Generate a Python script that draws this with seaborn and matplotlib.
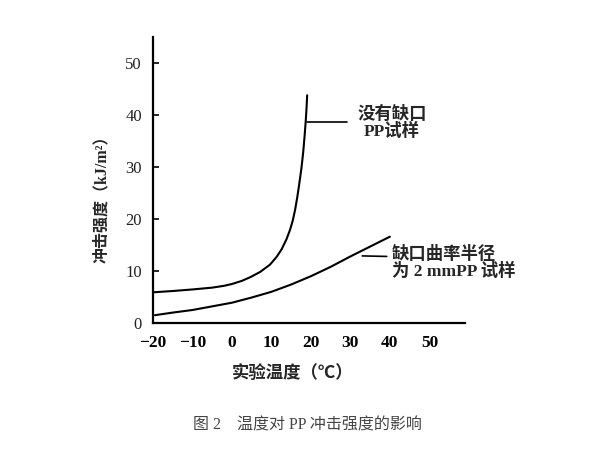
import matplotlib
matplotlib.use('Agg')
import matplotlib.pyplot as plt
import seaborn as sns
import pandas as pd

# Data
# unnotched PP specimen
temp_plain = [-20, -15, -10, -5, -2, 0, 2.5, 4.6, 7.1, 9.6, 11.3, 12.6, 13.8,
              14.7, 15.4, 16.0, 16.5, 17.0, 17.6, 18.05, 18.4, 18.7, 18.9, 19.05]
impact_plain = [5.9, 6.15, 6.45, 6.8, 7.15, 7.5, 8.1, 8.8, 9.8, 11.2, 12.7, 14.2, 16.1,
                17.9, 19.7, 21.8, 24.0, 26.5, 29.8, 32.9, 36.0, 39.0, 41.5, 43.8]

# PP specimen with 2 mm notch radius
temp_notch = [-19.5, -15, -10, -5, 0, 5, 10, 15, 20, 25, 30, 35, 40]
impact_notch = [1.5, 2.0, 2.5, 3.2, 3.9, 4.9, 6.0, 7.4, 9.0, 10.8, 12.8, 14.7, 16.6]

# leader lines for the labels
lead_plain_x = [19.1, 29.2]
lead_plain_y = [38.6, 38.6]
lead_notch_x = [33.0, 39.2]
lead_notch_y = [12.9, 12.8]

x_ticks = [-20, -10, 0, 10, 20, 30, 40, 50]
y_ticks = [0, 10, 20, 30, 40, 50]

label_plain = '没有缺口\nPP试样'
label_notch = '缺口曲率半径\n为 2 mmPP 试样'
x_label = '实验温度（℃）'
y_label = '冲击强度（kJ/m²）'
caption = '图 2    温度对 PP 冲击强度的影响'

sns.set_theme(style='ticks')
plt.rcParams['font.family'] = ['Liberation Serif', 'Noto Sans CJK SC', 'DejaVu Sans']
plt.rcParams['axes.unicode_minus'] = True

df_plain = pd.DataFrame({'temp': temp_plain, 'impact': impact_plain})
df_notch = pd.DataFrame({'temp': temp_notch, 'impact': impact_notch})

fig = plt.figure(figsize=(5.93, 4.65), dpi=100)
ax = fig.add_axes([0.258, 0.3054, 0.526, 0.615])

sns.lineplot(data=df_plain, x='temp', y='impact', sort=False, estimator=None,
             color='black', linewidth=1.5, ax=ax)
sns.lineplot(data=df_notch, x='temp', y='impact', sort=False, estimator=None,
             color='black', linewidth=1.5, ax=ax)
ax.plot(lead_plain_x, lead_plain_y, color='black', linewidth=1.2)
ax.plot(lead_notch_x, lead_notch_y, color='black', linewidth=1.2)

cjk = ['Liberation Serif', 'Noto Sans CJK SC']
ax.text(40.5, 38.4, label_plain, ha='center', va='center', fontsize=12.5,
        fontweight='bold', family=cjk, linespacing=1.0, multialignment='center')
ax.text(40.5, 11.5, label_notch, ha='left', va='center', fontsize=12.5,
        fontweight='bold', family=cjk, linespacing=1.0)

ax.set_xlim(-20, 59)
ax.set_ylim(0, 55)
ax.set_xticks(x_ticks)
ax.set_yticks(y_ticks)
sns.despine(ax=ax)
for side in ['left', 'bottom']:
    ax.spines[side].set_linewidth(1.6)
    ax.spines[side].set_color('black')

ax.tick_params(axis='x', length=0, pad=9, labelsize=12.5, labelcolor='black')
ax.tick_params(axis='y', direction='in', length=4, width=1.2, pad=8,
               labelsize=12, labelcolor='#222222', color='black')
for lab in ax.get_xticklabels():
    lab.set_fontweight('bold')

ax.set_xlabel(x_label, fontsize=12.5, fontweight='bold', family=cjk, va='center')
ax.set_ylabel(y_label, fontsize=11.5, fontweight='bold', family=cjk, va='center')
ax.xaxis.set_label_coords(0.447, -0.175)
ax.yaxis.set_label_coords(-0.165, 0.448)

fig.text(0.519, 0.084, caption, ha='center', va='center', fontsize=11.5,
         color='#444444', family=cjk)

fig.savefig('out.png', dpi=100)
